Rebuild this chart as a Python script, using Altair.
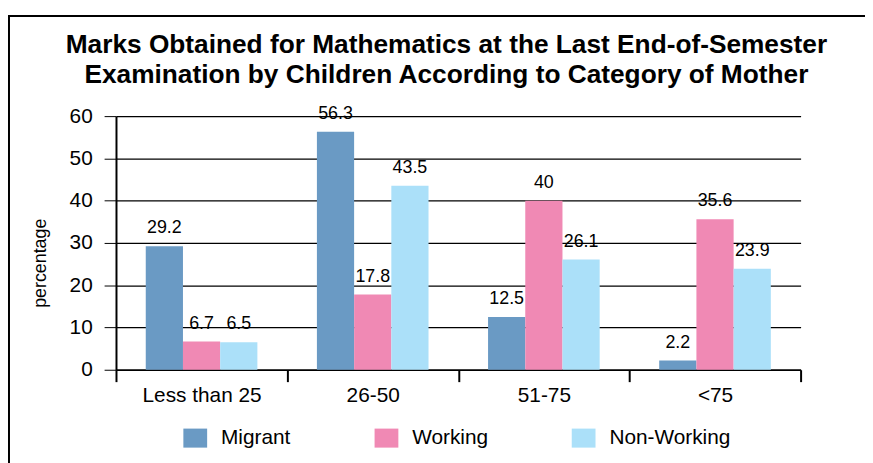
import altair as alt
import pandas as pd

categories = ["Less than 25", "26-50", "51-75", "<75"]
series = ["Migrant", "Working", "Non-Working"]
migrant = [29.2, 56.3, 12.5, 2.2]
working = [6.7, 17.8, 40, 35.6]
non_working = [6.5, 43.5, 26.1, 23.9]
colors = ["#6a9ac4", "#f089b4", "#abe0f9"]

rows = []
for s, vals in zip(series, [migrant, working, non_working]):
    for c, v in zip(categories, vals):
        rows.append({"category": c, "series": s, "value": v, "label": f"{v:g}"})
df = pd.DataFrame(rows)

FONT = "Liberation Sans"

x_enc = alt.X(
    "category:N",
    sort=categories,
    scale=alt.Scale(paddingInner=0, paddingOuter=0),
    axis=alt.Axis(
        title=None,
        labelAngle=0,
        tickBand="extent",
        tickSize=12,
        labelPadding=3,
        labelFontSize=21,
        labelColor="black",
        domainColor="black",
        tickColor="black",
        tickWidth=2,
        domainWidth=1.5,
        grid=False,
        labelFont=FONT,
    ),
)
xoff = alt.XOffset("series:N", sort=series, scale=alt.Scale(paddingOuter=0.8, paddingInner=0))
y_enc = alt.Y(
    "value:Q",
    scale=alt.Scale(domain=[0, 60]),
    axis=alt.Axis(
        title="percentage",
        values=[0, 10, 20, 30, 40, 50, 60],
        tickSize=12,
        labelPadding=12,
        labelFontSize=21,
        labelColor="black",
        labelFont=FONT,
        titleFont=FONT,
        titleFontSize=18,
        titleFontWeight="normal",
        titleColor="black",
        titleX=-76,
        titleY=148,
        titleBaseline="middle",
        domainColor="black",
        domainWidth=2,
        tickColor="black",
        grid=True,
        gridColor="black",
        gridWidth=1.3,
    ),
)

bars = alt.Chart(df).mark_bar().encode(
    x=x_enc,
    xOffset=xoff,
    y=y_enc,
    color=alt.Color(
        "series:N",
        sort=series,
        scale=alt.Scale(domain=series, range=colors),
        legend=alt.Legend(
            title=None,
            orient="none",
            direction="horizontal",
            legendX=68,
            legendY=313,
            symbolType="M-1,-0.8H1V0.8H-1Z",
            symbolSize=576,
            symbolStrokeWidth=0,
            symbolOpacity=1,
            labelFontSize=21,
            labelFont=FONT,
            labelColor="black",
            labelOffset=14,
            columnPadding=84,
            padding=0,
        ),
    ),
)

labels = alt.Chart(df).mark_text(
    baseline="bottom", dy=-9, fontSize=18, font=FONT, color="black"
).encode(
    x=alt.X("category:N", sort=categories),
    xOffset=xoff,
    y="value:Q",
    text="label:N",
)

frame = alt.Chart(pd.DataFrame({"a": [0]})).mark_rect(
    fillOpacity=0, stroke="black", strokeWidth=2
).encode(
    x=alt.value(-108), x2=alt.value(900), y=alt.value(-101), y2=alt.value(600)
)

chart = alt.layer(frame, bars, labels).properties(
    width=691,
    height=256,
    title=alt.TitleParams(
        text=[
            "Marks Obtained for Mathematics at the Last End-of-Semester",
            "Examination by Children According to Category of Mother",
        ],
        font=FONT,
        fontSize=26.5,
        fontWeight="bold",
        color="black",
        anchor="middle",
        frame="group",
        dx=-12,
        offset=0,
        dy=74,
        lineHeight=30,
    ),
    autosize=alt.AutoSizeParams(type="none"),
    padding={"left": 109, "top": 107, "right": 65, "bottom": 92},
).configure_view(stroke=None)

chart.save("out.html", embed_options={"renderer": "svg", "actions": False})
